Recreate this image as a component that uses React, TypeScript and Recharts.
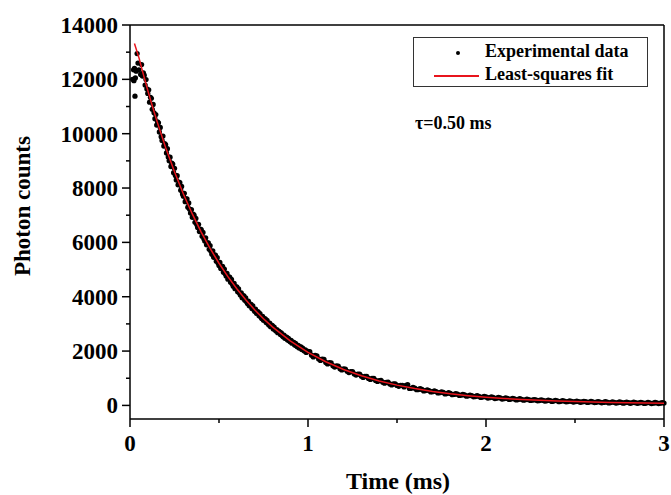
import React from "react"
import { ComposedChart, Scatter, XAxis, YAxis, ZAxis, ReferenceLine } from "recharts"

// measured photon counts, [time (ms), counts]
const experimentalData: [number, number][] = [
  [0.015, 12000], [0.02, 12350], [0.022, 11950], [0.025, 12400], [0.028, 11380], [0.03, 12050],
  [0.035, 12300], [0.04, 12950], [0.045, 12600], [0.05, 12350], [0.06, 12180], [0.065, 12545],
  [0.07, 12120], [0.075, 12240], [0.08, 12150], [0.085, 11790], [0.09, 11990], [0.095, 11644],
  [0.1, 11480], [0.105, 11614], [0.11, 11158], [0.115, 11337], [0.12, 11300], [0.125, 10895],
  [0.13, 11074], [0.135, 10768], [0.14, 10550], [0.145, 10704], [0.15, 10318], [0.155, 10436],
  [0.16, 10400], [0.165, 10062], [0.17, 10229], [0.175, 9891], [0.18, 9750], [0.185, 9914],
  [0.19, 9545], [0.195, 9631], [0.2, 9600], [0.205, 9291], [0.21, 9447], [0.215, 9146],
  [0.22, 9000], [0.225, 9134], [0.23, 8793], [0.235, 8916], [0.24, 8880], [0.245, 8562],
  [0.25, 8725], [0.255, 8461], [0.26, 8300], [0.265, 8453], [0.27, 8119], [0.275, 8219],
  [0.28, 8200], [0.285, 7918], [0.29, 8058], [0.295, 7781], [0.3, 7700], [0.305, 7806],
  [0.31, 7498], [0.315, 7604], [0.32, 7600], [0.325, 7296], [0.33, 7451], [0.335, 7220],
  [0.34, 7080], [0.345, 7207], [0.35, 6925], [0.355, 7037], [0.36, 7000], [0.365, 6739],
  [0.37, 6881], [0.375, 6655], [0.38, 6550], [0.385, 6663], [0.39, 6397], [0.395, 6484],
  [0.4, 6470], [0.405, 6227], [0.41, 6363], [0.415, 6133], [0.42, 6050], [0.425, 6161],
  [0.43, 5910], [0.435, 5982], [0.44, 5980], [0.445, 5745], [0.45, 5876], [0.455, 5670],
  [0.46, 5560], [0.465, 5688], [0.47, 5452], [0.475, 5538], [0.48, 5530], [0.485, 5310],
  [0.49, 5436], [0.495, 5244], [0.5, 5150], [0.505, 5260], [0.51, 5038], [0.515, 5119],
  [0.52, 5120], [0.525, 4899], [0.53, 5019], [0.535, 4842], [0.54, 4760], [0.545, 4855],
  [0.55, 4647], [0.555, 4731], [0.56, 4720], [0.565, 4530], [0.57, 4634], [0.575, 4470],
  [0.58, 4390], [0.585, 4491], [0.59, 4297], [0.595, 4364], [0.6, 4360], [0.605, 4180],
  [0.61, 4287], [0.615, 4136], [0.62, 4060], [0.625, 4144], [0.63, 3963], [0.635, 4044],
  [0.64, 4030], [0.645, 3866], [0.65, 3957], [0.655, 3819], [0.66, 3750], [0.665, 3834],
  [0.67, 3667], [0.675, 3730], [0.68, 3720], [0.685, 3568], [0.69, 3662], [0.695, 3527],
  [0.7, 3470], [0.705, 3547], [0.71, 3392], [0.715, 3449], [0.72, 3440], [0.725, 3303],
  [0.73, 3379], [0.735, 3257], [0.74, 3200], [0.745, 3273], [0.75, 3131], [0.755, 3190],
  [0.76, 3180], [0.765, 3048], [0.77, 3127], [0.775, 3018], [0.78, 2960], [0.785, 3028],
  [0.79, 2899], [0.795, 2950], [0.8, 2940], [0.805, 2814], [0.81, 2885], [0.815, 2788],
  [0.82, 2740], [0.825, 2793], [0.83, 2675], [0.835, 2729], [0.84, 2710], [0.845, 2607],
  [0.85, 2670], [0.855, 2575], [0.86, 2530], [0.865, 2585], [0.87, 2470], [0.875, 2515],
  [0.88, 2510], [0.885, 2407], [0.89, 2462], [0.895, 2379], [0.9, 2340], [0.905, 2393],
  [0.91, 2290], [0.915, 2327], [0.92, 2320], [0.925, 2222], [0.93, 2279], [0.935, 2198],
  [0.94, 2160], [0.945, 2205], [0.95, 2113], [0.955, 2152], [0.96, 2150], [0.965, 2061],
  [0.97, 2111], [0.975, 2031], [0.98, 2000], [0.985, 2041], [0.99, 1951], [0.995, 1992],
  [1.0, 1990], [1.01, 1976], [1.02, 1850], [1.03, 1783], [1.04, 1840], [1.05, 1822],
  [1.06, 1710], [1.07, 1654], [1.08, 1700], [1.09, 1689], [1.1, 1580], [1.11, 1526],
  [1.12, 1570], [1.13, 1561], [1.14, 1460], [1.15, 1414], [1.16, 1450], [1.17, 1448],
  [1.18, 1350], [1.19, 1305], [1.2, 1345], [1.21, 1339], [1.22, 1255], [1.23, 1210],
  [1.24, 1245], [1.25, 1242], [1.26, 1160], [1.27, 1117], [1.28, 1150], [1.29, 1153],
  [1.3, 1075], [1.31, 1031], [1.32, 1070], [1.33, 1071], [1.34, 995], [1.35, 958],
  [1.36, 990], [1.37, 990], [1.38, 920], [1.39, 884], [1.4, 915], [1.41, 920],
  [1.42, 855], [1.43, 817], [1.44, 850], [1.45, 855], [1.46, 790], [1.47, 755],
  [1.48, 790], [1.49, 796], [1.5, 735], [1.51, 703], [1.52, 735], [1.53, 736],
  [1.54, 680], [1.55, 740], [1.56, 760], [1.57, 625], [1.58, 630], [1.59, 661],
  [1.6, 635], [1.61, 578], [1.62, 585], [1.63, 616], [1.64, 590], [1.65, 535],
  [1.66, 545], [1.67, 575], [1.68, 548], [1.69, 495], [1.7, 505], [1.71, 536],
  [1.72, 510], [1.73, 458], [1.74, 470], [1.75, 500], [1.76, 475], [1.77, 424],
  [1.78, 435], [1.79, 468], [1.8, 442], [1.81, 397], [1.82, 405], [1.83, 433],
  [1.84, 412], [1.85, 369], [1.86, 378], [1.87, 405], [1.88, 384], [1.89, 341],
  [1.9, 352], [1.91, 379], [1.92, 358], [1.93, 317], [1.94, 328], [1.95, 355],
  [1.96, 334], [1.97, 294], [1.98, 306], [1.99, 333], [2.0, 312], [2.01, 273],
  [2.02, 286], [2.03, 313], [2.04, 292], [2.05, 253], [2.06, 266], [2.07, 294],
  [2.08, 274], [2.09, 235], [2.1, 249], [2.11, 277], [2.12, 256], [2.13, 219],
  [2.14, 233], [2.15, 261], [2.16, 240], [2.17, 203], [2.18, 218], [2.19, 246],
  [2.2, 225], [2.21, 194], [2.22, 204], [2.23, 228], [2.24, 212], [2.25, 182],
  [2.26, 192], [2.27, 216], [2.28, 200], [2.29, 170], [2.3, 181], [2.31, 204],
  [2.32, 188], [2.33, 159], [2.34, 170], [2.35, 193], [2.36, 177], [2.37, 148],
  [2.38, 160], [2.39, 184], [2.4, 168], [2.41, 139], [2.42, 151], [2.43, 175],
  [2.44, 159], [2.45, 131], [2.46, 143], [2.47, 167], [2.48, 150], [2.49, 123],
  [2.5, 136], [2.51, 159], [2.52, 143], [2.53, 116], [2.54, 129], [2.55, 152],
  [2.56, 136], [2.57, 109], [2.58, 123], [2.59, 146], [2.6, 130], [2.61, 103],
  [2.62, 117], [2.63, 140], [2.64, 124], [2.65, 97], [2.66, 111], [2.67, 135],
  [2.68, 118], [2.69, 92], [2.7, 106], [2.71, 130], [2.72, 113], [2.73, 88],
  [2.74, 102], [2.75, 125], [2.76, 109], [2.77, 83], [2.78, 98], [2.79, 121],
  [2.8, 104], [2.81, 79], [2.82, 94], [2.83, 117], [2.84, 100], [2.85, 76],
  [2.86, 91], [2.87, 114], [2.88, 97], [2.89, 72], [2.9, 87], [2.91, 111],
  [2.92, 94], [2.93, 69], [2.94, 84], [2.95, 108], [2.96, 91], [2.97, 66],
  [2.98, 81], [2.99, 105], [3.0, 88],
]

// least-squares fit curve, [time (ms), counts]
const fitCurve: [number, number][] = [
  [0.025, 13320], [0.05, 12800], [0.075, 12181], [0.1, 11590], [0.125, 11026], [0.15, 10490],
  [0.2, 9496], [0.25, 8597], [0.3, 7783], [0.35, 7047], [0.4, 6380], [0.45, 5778],
  [0.5, 5232], [0.55, 4739], [0.6, 4292], [0.65, 3888], [0.7, 3522], [0.75, 3191],
  [0.8, 2892], [0.9, 2376], [1.0, 1953], [1.1, 1607], [1.2, 1324], [1.3, 1092],
  [1.4, 902], [1.5, 747], [1.6, 620], [1.7, 516], [1.8, 430], [1.9, 360],
  [2.0, 303], [2.1, 256], [2.2, 218], [2.3, 187], [2.4, 162], [2.5, 140],
  [2.6, 125], [2.7, 109], [2.8, 100], [2.9, 88], [3.0, 84],
]

const xTicks = [0, 0.5, 1, 1.5, 2, 2.5, 3]
const yTicks = [0, 1000, 2000, 3000, 4000, 5000, 6000, 7000, 8000, 9000, 10000, 11000, 12000, 13000, 14000]

const font = "'Liberation Serif', 'Times New Roman', serif"

const scatterData = experimentalData.map(([t, y]) => ({ t, y }))
const lineData = fitCurve.map(([t, y]) => ({ t, y }))

function YTick(props: any) {
  const { x, y, payload } = props
  const major = payload.value % 2000 === 0
  const ax = x + 12
  return (
    <g>
      <line x1={ax - (major ? 8 : 4)} x2={ax} y1={y} y2={y} stroke="#000" strokeWidth={1.5} />
      {major && (
        <text x={x} y={y} dy={8} textAnchor="end" fontFamily={font} fontWeight="bold" fontSize={23} fill="#000">
          {payload.value}
        </text>
      )}
    </g>
  )
}

function XTick(props: any) {
  const { x, y, payload } = props
  const major = Number.isInteger(payload.value)
  const ay = y - 12
  return (
    <g>
      <line x1={x} x2={x} y1={ay} y2={ay + (major ? 8 : 4)} stroke="#000" strokeWidth={1.5} />
      {major && (
        <text x={x} y={y} dy={20} textAnchor="middle" fontFamily={font} fontWeight="bold" fontSize={23} fill="#000">
          {payload.value}
        </text>
      )}
    </g>
  )
}

export default function App() {
  return (
    <div style={{ position: "absolute", left: 0, top: 0, width: 671, height: 495, background: "#fff" }}>
      <ComposedChart width={671} height={495} margin={{ top: 25, right: 7, bottom: 0, left: 0 }}>
        <XAxis
          type="number"
          dataKey="t"
          domain={[0, 3]}
          ticks={xTicks}
          interval={0}
          height={76}
          tickSize={8}
          tickMargin={4}
          tickLine={false}
          tick={<XTick />}
          axisLine={{ stroke: "#000", strokeWidth: 1.5 }}
          label={{
            content: () => (
              <text x={398} y={489} textAnchor="middle" fontFamily={font} fontWeight="bold" fontSize={24} fill="#000">
                Time (ms)
              </text>
            ),
          }}
        />
        <YAxis
          type="number"
          dataKey="y"
          domain={[-500, 14000]}
          ticks={yTicks}
          interval={0}
          width={130}
          tickSize={8}
          tickMargin={4}
          tickLine={false}
          tick={<YTick />}
          axisLine={{ stroke: "#000", strokeWidth: 1.5 }}
          label={{
            content: () => (
              <text
                x={30}
                y={206}
                transform="rotate(-90 30 206)"
                textAnchor="middle"
                fontFamily={font}
                fontWeight="bold"
                fontSize={23}
                fill="#000"
              >
                Photon counts
              </text>
            ),
          }}
        />
        <ZAxis range={[22, 22]} />
        <ReferenceLine y={14000} stroke="#000" strokeWidth={1.5} />
        <ReferenceLine x={3} stroke="#000" strokeWidth={1.5} />
        <Scatter data={scatterData} dataKey="y" fill="#000" isAnimationActive={false} />
        <Scatter
          data={lineData}
          dataKey="y"
          line={{ stroke: "#e8141c", strokeWidth: 1.5 }}
          lineType="joint"
          shape={() => <g />}
          isAnimationActive={false}
        />
      </ComposedChart>
      <div
        style={{
          position: "absolute",
          left: 413,
          top: 37,
          width: 233,
          height: 48,
          border: "1px solid #333",
          fontFamily: font,
          fontWeight: "bold",
          fontSize: 18,
          color: "#000",
        }}
      >
        <div style={{ position: "absolute", left: 42, top: 13, width: 4, height: 4, borderRadius: 2, background: "#000" }} />
        <div style={{ position: "absolute", left: 71, top: 3, whiteSpace: "nowrap", lineHeight: "20px" }}>Experimental data</div>
        <div style={{ position: "absolute", left: 20, top: 37, width: 45, height: 1.5, background: "#e8141c" }} />
        <div style={{ position: "absolute", left: 71, top: 26, whiteSpace: "nowrap", lineHeight: "20px" }}>Least-squares fit</div>
      </div>
      <div
        style={{
          position: "absolute",
          left: 415,
          top: 113,
          fontFamily: font,
          fontWeight: "bold",
          fontSize: 18,
          lineHeight: "20px",
          whiteSpace: "nowrap",
        }}
      >
        τ=0.50 ms
      </div>
    </div>
  )
}
